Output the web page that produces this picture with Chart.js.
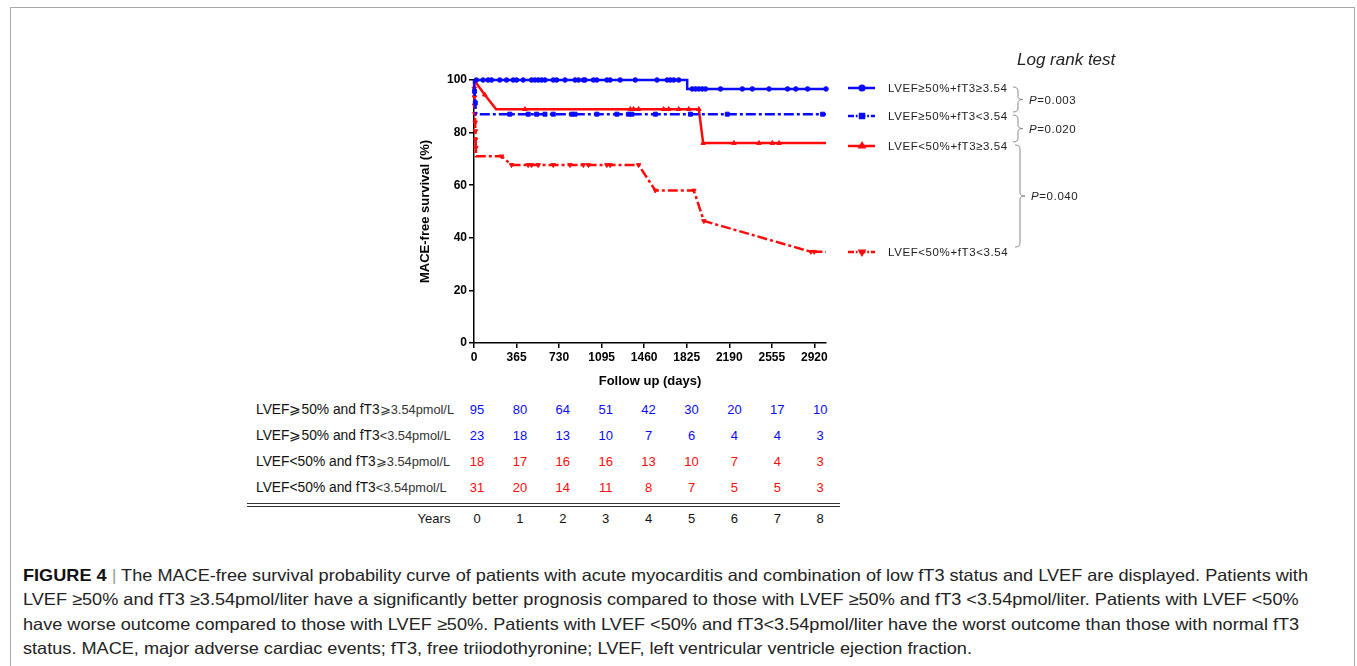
<!DOCTYPE html>
<html lang="en">
  <head>
    <meta charset="UTF-8" />
    <title>MACE-free survival - Figure 4</title>
    <script src="https://cdn.jsdelivr.net/npm/chart.js@4.4.1/dist/chart.umd.min.js"></script>
    <style>
      body { margin: 0; background: #fff; font-family: "Liberation Sans", Arial, sans-serif; }
      .frame { position: absolute; left: 10px; top: 7px; width: 1343px; height: 700px; border: 1px solid #a8a8a8; }
      #wrap { position: absolute; left: 0; top: 0; width: 1357px; height: 400px; }
      .cell { position: absolute; font-size: 13px; transform: translate(-50%, -50%); white-space: nowrap; }
      .lbl { position: absolute; left: 256px; font-size: 13.8px; color: #111; transform: translateY(-50%); white-space: nowrap; }
      .lbl span { font-size: 12.8px; color: #333; }
      .rule { position: absolute; left: 247px; width: 593px; height: 1px; background: #333; }
      .cap { position: absolute; left: 23px; font-family: "Liberation Sans Narrow", "Liberation Sans", Arial, sans-serif;
             font-size: 16.5px; color: #222; white-space: nowrap; transform-origin: 0 50%; line-height: 20px; }
      .cap b { color: #111; }
      .cap .bar { color: #999; }
    </style>
  </head>
  <body>
    <div class="frame"></div>
    <div id="wrap"><canvas id="km" width="1357" height="400"></canvas></div>
    <div id="table"></div>
    <div id="caption"></div>

    <script>
      // x axis ticks (days)
      const xTickValues = [0, 365, 730, 1095, 1460, 1825, 2190, 2555, 2920];

      // LVEF>=50% + fT3>=3.54
      const g1Days = [0, 1829, 1829, 3020];
      const g1Surv = [100, 100, 96.6, 96.6];
      const g1CensorDays = [20, 78, 121, 150, 221, 279, 336, 365, 422, 494, 523, 551, 580, 609, 680, 709, 781, 867, 896, 939, 953, 1025, 1054, 1140, 1168, 1254, 1384, 1570, 1657, 1685, 1714, 1756,
        1872, 1900, 1929, 1958, 1986, 2115, 2302, 2388, 2531, 2690, 2761, 2862, 3020];
      const g1CensorSurv = [100, 100, 100, 100, 100, 100, 100, 100, 100, 100, 100, 100, 100, 100, 100, 100, 100, 100, 100, 100, 100, 100, 100, 100, 100, 100, 100, 100, 100, 100, 100, 100,
        96.6, 96.6, 96.6, 96.6, 96.6, 96.6, 96.6, 96.6, 96.6, 96.6, 96.6, 96.6, 96.6];

      // LVEF>=50% + fT3<3.54
      const g2Days = [0, 5, 11, 18, 3020];
      const g2Surv = [100, 95.7, 91.3, 87.0, 87.0];
      const g2CensorDays = [5, 11, 307, 465, 537, 609, 680, 839, 867, 1054, 1226, 1326, 1355, 1556, 1857, 2173, 2991];
      const g2CensorSurv = [95.7, 91.3, 87, 87, 87, 87, 87, 87, 87, 87, 87, 87, 87, 87, 87, 87, 87];

      // LVEF<50% + fT3>=3.54
      const g3Days = [0, 92, 190, 1929, 1966, 3020];
      const g3Surv = [100, 94.4, 88.9, 88.9, 76.0, 76.0];
      const g3CensorDays = [92, 437, 1341, 1369, 1412, 1627, 1670, 1756, 1842, 1929, 1966, 2230, 2445, 2560, 2617];
      const g3CensorSurv = [94.4, 88.9, 88.9, 88.9, 88.9, 88.9, 88.9, 88.9, 88.9, 88.9, 76.0, 76.0, 76.0, 76.0, 76.0];

      // LVEF<50% + fT3<3.54
      const g4Days = [0, 2, 4, 6, 8, 10, 12, 14, 16, 18, 236, 322, 1412, 1556, 1886, 1972, 2890, 3020];
      const g4Surv = [100, 96.8, 93.5, 90.3, 87.1, 83.9, 80.6, 77.4, 74.2, 71.0, 71.0, 67.7, 67.7, 58.0, 58.0, 46.4, 34.7, 34.7];
      const g4CensorDays = [2, 4, 6, 8, 10, 12, 14, 16, 236, 322, 465, 494, 551, 680, 824, 939, 982, 1140, 1168, 1412, 1556, 1886, 1972, 2890, 2919];
      const g4CensorSurv = [96.8, 93.5, 90.3, 87.1, 83.9, 80.6, 77.4, 74.2, 71.0, 67.7, 67.7, 67.7, 67.7, 67.7, 67.7, 67.7, 67.7, 67.7, 67.7, 67.7, 58.0, 58.0, 46.4, 34.7, 34.7];

      // legend / log rank
      const legendLabels = ["LVEF≥50%+fT3≥3.54", "LVEF≥50%+fT3<3.54", "LVEF<50%+fT3≥3.54", "LVEF<50%+fT3<3.54"];
      const pValues = ["0.003", "0.020", "0.040"];

      // number at risk table
      const riskYears = [0, 1, 2, 3, 4, 5, 6, 7, 8];
      const riskG1 = [95, 80, 64, 51, 42, 30, 20, 17, 10];
      const riskG2 = [23, 18, 13, 10, 7, 6, 4, 4, 3];
      const riskG3 = [18, 17, 16, 16, 13, 10, 7, 4, 3];
      const riskG4 = [31, 20, 14, 11, 8, 7, 5, 5, 3];
      const riskLabels = [
        ["LVEF⩾50% and fT3", "⩾3.54pmol/L"],
        ["LVEF⩾50% and fT3", "<3.54pmol/L"],
        ["LVEF<50% and fT3", "⩾3.54pmol/L"],
        ["LVEF<50% and fT3", "<3.54pmol/L"],
      ];

      const BLUE = "#0a0aff";
      const RED = "#ff0a0a";

      const pts = (xs, ys) => xs.map((x, i) => ({ x: x, y: ys[i] }));

      function curve(xs, ys, color, dash) {
        return {
          data: pts(xs, ys), showLine: true, borderColor: color, backgroundColor: color,
          borderWidth: 2.5, borderDash: dash, pointRadius: 0, tension: 0, clip: false,
        };
      }
      function marks(xs, ys, color, style, r, rot) {
        return {
          data: pts(xs, ys), showLine: false, pointStyle: style, pointRadius: r,
          pointRotation: rot || 0, borderColor: color, backgroundColor: color,
          borderWidth: 1, clip: false,
        };
      }

      const styles = [
        { color: BLUE, dash: [], style: "circle", r: 2.3 },
        { color: BLUE, dash: [10, 3, 3, 3], style: "rect", r: 2.8 },
        { color: RED, dash: [], style: "triangle", r: 2.6, rot: 0 },
        { color: RED, dash: [10, 3, 3, 3], style: "triangle", r: 2.6, rot: 180 },
      ];

      // legend, brackets, p values
      const legendPlugin = {
        id: "kmLegend",
        afterDraw(chart) {
          const ctx = chart.ctx;
          const rowsY = [88, 116, 146, 252];
          ctx.save();
          rowsY.forEach((y, i) => {
            const s = styles[i];
            ctx.strokeStyle = s.color;
            ctx.fillStyle = s.color;
            ctx.lineWidth = 2.5;
            ctx.setLineDash(s.dash.map((d) => d * 0.6));
            ctx.beginPath();
            ctx.moveTo(848, y);
            ctx.lineTo(875, y);
            ctx.stroke();
            ctx.setLineDash([]);
            Chart.helpers.drawPoint(ctx, { pointStyle: s.style, radius: s.r, rotation: s.rot || 0, borderWidth: 1 }, 862, y);
            ctx.fillStyle = "#222";
            ctx.font = "11.5px 'Liberation Sans', Arial";
            ctx.letterSpacing = "0.6px";
            ctx.textBaseline = "middle";
            ctx.fillText(legendLabels[i], 888, y + 1);
          });
          ctx.letterSpacing = "0px";

          // brackets
          ctx.strokeStyle = "#8a8a8a";
          ctx.lineWidth = 1;
          const brackets = [[87, 112, 1018], [115, 142, 1018], [145, 247, 1020]];
          brackets.forEach(([t, b, x], i) => {
            const m = (t + b) / 2;
            ctx.beginPath();
            ctx.moveTo(x - 5, t);
            ctx.quadraticCurveTo(x, t, x, t + 4);
            ctx.lineTo(x, m - 3);
            ctx.quadraticCurveTo(x, m, x + 5, m);
            ctx.quadraticCurveTo(x, m, x, m + 3);
            ctx.lineTo(x, b - 4);
            ctx.quadraticCurveTo(x, b, x - 5, b);
            ctx.stroke();
            ctx.fillStyle = "#222";
            ctx.font = "italic 11.5px 'Liberation Sans', Arial";
            ctx.letterSpacing = "0.6px";
            ctx.fillText("P", x + 11, m + 1);
            const pw = ctx.measureText("P").width;
            ctx.font = "11.5px 'Liberation Sans', Arial";
            ctx.fillText("=" + pValues[i], x + 11 + pw, m + 1);
          });
          ctx.letterSpacing = "0px";
          ctx.font = "italic 17px 'Liberation Sans', Arial";
          ctx.fillStyle = "#222";
          ctx.fillText("Log rank test", 1017, 60);
          ctx.restore();
        },
      };

      const datasets = [];
      [[g1Days, g1Surv, g1CensorDays, g1CensorSurv], [g2Days, g2Surv, g2CensorDays, g2CensorSurv],
       [g3Days, g3Surv, g3CensorDays, g3CensorSurv], [g4Days, g4Surv, g4CensorDays, g4CensorSurv]]
        .forEach(([d, s, cd, cs], i) => {
          const st = styles[i];
          datasets.push(curve(d, s, st.color, st.dash));
          datasets.push(marks(cd, cs, st.color, st.style, st.r, st.rot));
        });

      const axisFont = { family: "'Liberation Sans', Arial", size: 12, weight: "bold" };
      const titleFont = { family: "'Liberation Sans', Arial", size: 13, weight: "bold" };

      new Chart(document.getElementById("km"), {
        type: "scatter",
        data: { datasets: datasets },
        plugins: [legendPlugin],
        options: {
          responsive: false,
          animation: false,
          layout: { padding: { left: 414, right: 531, top: 80, bottom: 7 } },
          plugins: { legend: { display: false }, tooltip: { enabled: false } },
          scales: {
            x: {
              type: "linear", min: 0, max: 3020,
              afterBuildTicks: (s) => { s.ticks = xTickValues.map((v) => ({ value: v })); },
              afterFit: (s) => { s.height = 50; },
              border: { color: "#000", width: 1.5 },
              grid: { drawOnChartArea: false, drawTicks: true, tickLength: 5, color: "#000", lineWidth: 1.5 },
              ticks: { color: "#000", font: axisFont, padding: 2, maxRotation: 0, autoSkip: false, callback: (v) => String(v) },
              title: { display: true, text: "Follow up (days)", color: "#000", font: titleFont, padding: { top: 4, bottom: 4 } },
            },
            y: {
              min: 0, max: 100,
              afterFit: (s) => { s.width = 60; },
              border: { color: "#000", width: 1.5 },
              grid: { drawOnChartArea: false, drawTicks: true, tickLength: 5, color: "#000", lineWidth: 1.5 },
              ticks: { stepSize: 20, color: "#000", font: axisFont, padding: 2 },
              title: { display: true, text: "MACE-free survival (%)", color: "#000", font: titleFont, padding: { top: 4, bottom: 4 } },
            },
          },
        },
      });

      // number-at-risk table
      const table = document.getElementById("table");
      const rowY = [409, 435, 461, 487];
      const colX = (i) => 477 + i * 42.9;
      [riskG1, riskG2, riskG3, riskG4].forEach((vals, r) => {
        const lab = document.createElement("div");
        lab.className = "lbl";
        lab.style.top = rowY[r] + "px";
        lab.innerHTML = riskLabels[r][0] + "<span>" + riskLabels[r][1] + "</span>";
        table.appendChild(lab);
        vals.forEach((v, i) => {
          const c = document.createElement("div");
          c.className = "cell";
          c.style.left = colX(i) + "px";
          c.style.top = rowY[r] + "px";
          c.style.color = r < 2 ? BLUE : RED;
          c.textContent = v;
          table.appendChild(c);
        });
      });
      [503, 506].forEach((y) => {
        const l = document.createElement("div");
        l.className = "rule";
        l.style.top = y + "px";
        table.appendChild(l);
      });
      const yl = document.createElement("div");
      yl.className = "cell";
      yl.style.left = "434px";
      yl.style.top = "518px";
      yl.style.color = "#111";
      yl.textContent = "Years";
      table.appendChild(yl);
      riskYears.forEach((v, i) => {
        const c = document.createElement("div");
        c.className = "cell";
        c.style.left = colX(i) + "px";
        c.style.top = "518px";
        c.style.color = "#111";
        c.textContent = v;
        table.appendChild(c);
      });

      // caption
      const capLines = [
        '<b>FIGURE 4</b> <span class="bar">|</span> The MACE-free survival probability curve of patients with acute myocarditis and combination of low fT3 status and LVEF are displayed. Patients with',
        "LVEF ≥50% and fT3 ≥3.54pmol/liter have a significantly better prognosis compared to those with LVEF ≥50% and fT3 &lt;3.54pmol/liter. Patients with LVEF &lt;50%",
        "have worse outcome compared to those with LVEF ≥50%. Patients with LVEF &lt;50% and fT3&lt;3.54pmol/liter have the worst outcome than those with normal fT3",
        "status. MACE, major adverse cardiac events; fT3, free triiodothyronine; LVEF, left ventricular ventricle ejection fraction.",
      ];
      const capY = [575, 599, 624, 648];
      const cap = document.getElementById("caption");
      const capEls = capLines.map((t, i) => {
        const d = document.createElement("div");
        d.className = "cap";
        d.style.top = capY[i] - 10 + "px";
        d.innerHTML = t;
        cap.appendChild(d);
        return d;
      });
      const k = 1285 / capEls[0].getBoundingClientRect().width;
      capEls.forEach((d) => { d.style.transform = "scaleX(" + k + ")"; });
    </script>
  </body>
</html>
